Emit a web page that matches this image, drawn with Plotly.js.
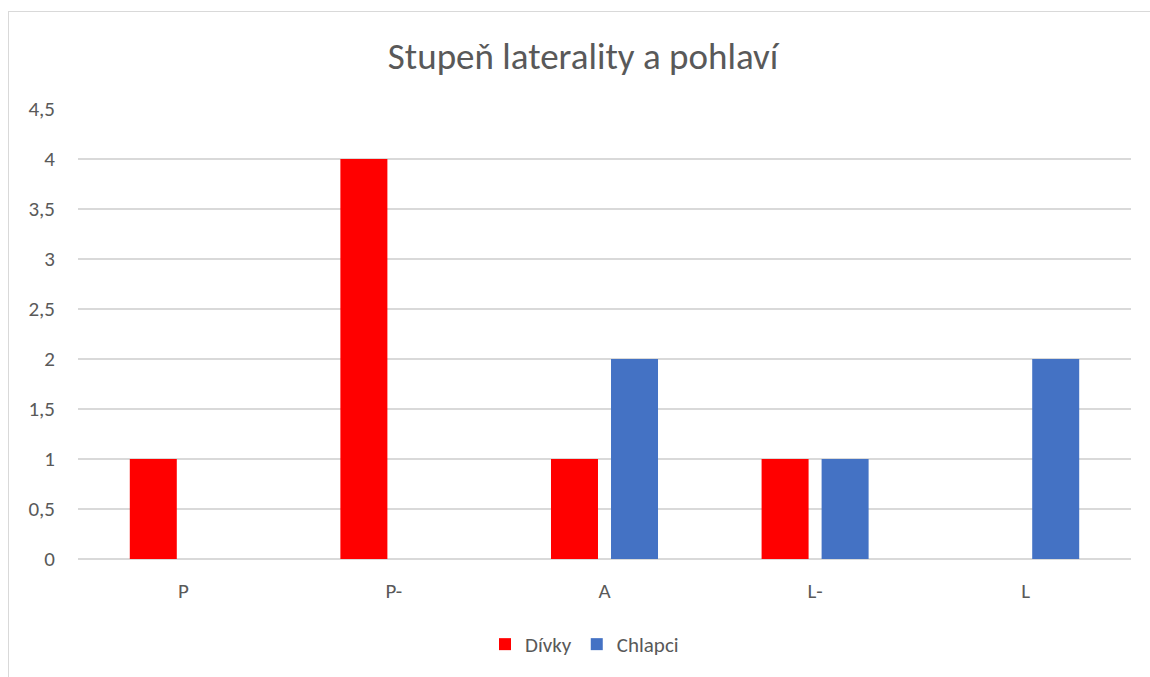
<!DOCTYPE html>
<html><head><meta charset="utf-8">
<script src="https://cdn.plot.ly/plotly-3.0.1.min.js"></script>
<style>
html,body{margin:0;padding:0;background:#fff;}
#frame{position:absolute;left:8px;top:11px;width:1200px;height:700px;border:1px solid #d9d9d9;pointer-events:none;z-index:5;}
#chart{position:absolute;left:0;top:0;width:1150px;height:677px;}
</style></head>
<body>
<div id="chart"></div>
<div id="frame"></div>
<script>
const categories = ["P", "P-", "A", "L-", "L"];
const divky = [1, 4, 1, 1, 0];
const chlapci = [0, 0, 2, 1, 2];
const seriesNames = ["Dívky", "Chlapci"];
const titleText = "Stupeň laterality a pohlaví";
const fontFam = "Carlito, Lato, 'Open Sans', sans-serif";

const traces = [
  {type:"bar", name:seriesNames[0], x:categories, y:divky, marker:{color:"#FF0000"}, hoverinfo:"y"},
  {type:"bar", name:seriesNames[1], x:categories, y:chlapci, marker:{color:"#4472C4"}, hoverinfo:"y"}
];
const layout = {
  width:1150, height:677,
  paper_bgcolor:"#ffffff", plot_bgcolor:"#ffffff",
  separators:", ",
  margin:{l:78, r:19, t:109, b:118},
  title:{text:titleText, x:0.507, xanchor:"center", y:0.917, yanchor:"middle",
         font:{family:fontFam, size:37, color:"#595959"}},
  barmode:"group", bargap:0.43, bargroupgap:0.217,
  font:{family:fontFam, color:"#595959"},
  xaxis:{type:"category", showgrid:false, showline:false, zeroline:false,
         tickfont:{size:21, color:"#595959"}, ticks:"", ticklabelstandoff:17},
  yaxis:{range:[0,4.5], dtick:0.5, tick0:0, showgrid:true, gridcolor:"#d9d9d9", gridwidth:1.3,
         zeroline:true, zerolinecolor:"#d9d9d9", zerolinewidth:1.3, showline:false,
         tickfont:{size:21, color:"#595959"}, ticks:"", ticklabelstandoff:22},
  showlegend:true,
  legend:{orientation:"h", x:0.481, xanchor:"center", y:-0.19, yanchor:"middle",
          font:{size:21, color:"#595959"}, itemwidth:30, traceorder:"normal"}
};
Plotly.newPlot("chart", traces, layout, {displayModeBar:false, staticPlot:true});
</script>
</body></html>
